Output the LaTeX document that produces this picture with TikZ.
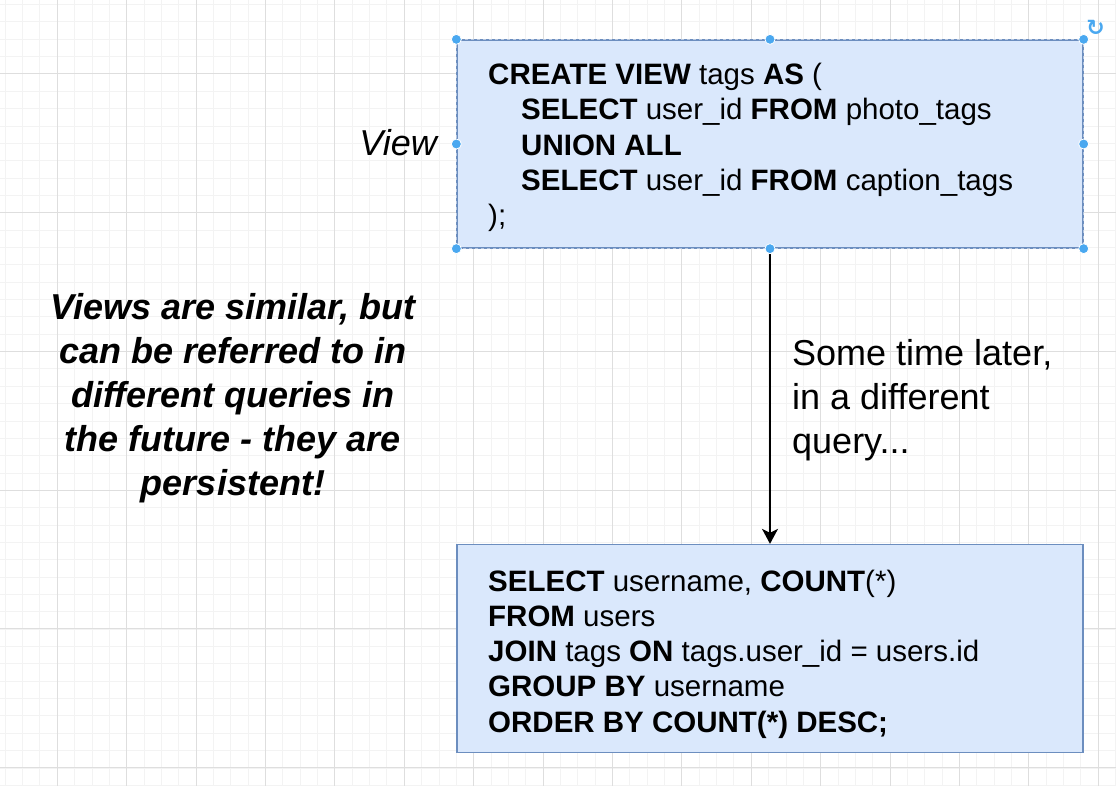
\documentclass[tikz,border=0pt]{standalone}
\usepackage{fontspec}
\setmainfont{Liberation Sans}
\newfontfamily\symfont{DejaVu Sans}
\usetikzlibrary{arrows.meta}
\definecolor{boxfill}{HTML}{DAE8FC}
\definecolor{boxline}{HTML}{6C8EBF}
\definecolor{handle}{HTML}{4AA8F0}
\definecolor{gridminor}{HTML}{F3F3F3}
\definecolor{gridmajor}{HTML}{DEDEDE}
\begin{document}
\begin{tikzpicture}[x=1pt,y=-1pt,
  sqlbox/.style={draw=boxline, fill=boxfill, line width=1.3pt, minimum width=626pt, minimum height=208pt, inner sep=0pt, anchor=center},
  sqltext/.style={font=\fontsize{29.5}{35.2}\selectfont, align=left, anchor=west, inner sep=0pt},
  bigtext/.style={font=\fontsize{36}{44}\selectfont, inner sep=0pt},
  handledot/.style={circle, fill=handle, draw=white, line width=0.8pt, minimum size=10pt, inner sep=0pt},
  flowarrow/.style={draw=black, line width=1.6pt, -{Stealth[length=15pt,width=16pt,inset=4pt]}}]
\useasboundingbox (0,0) rectangle (1116,786);
\fill[white] (0,0) rectangle (1116,786);
% grid
\foreach \k in {0,...,64} {
  \draw[gridminor, line width=1pt] ({5.25+17.35*\k},0) -- ({5.25+17.35*\k},786);
}
\foreach \k in {0,...,45} {
  \draw[gridminor, line width=1pt] (0,{4.6+17.35*\k}) -- (1116,{4.6+17.35*\k});
}
\foreach \k in {0,...,15} {
  \draw[gridmajor, line width=1pt] ({57.3+69.4*\k},0) -- ({57.3+69.4*\k},786);
}
\foreach \k in {0,...,5} {
  \draw[gridmajor, line width=1pt] (0,{74+138.7*\k}) -- (1116,{74+138.7*\k});
}
% boxes
\node[sqlbox] (view) at (770,144) {};
\node[sqlbox] (query) at (770,648.5) {};
\draw[white, line width=0.8pt, dash pattern=on 3pt off 3pt, opacity=0.5] (view.north west) rectangle (view.south east);
\node[sqltext] (viewtext) at (488,147.5) {\textbf{CREATE VIEW} tags \textbf{AS} (\\
\hspace*{33pt}\textbf{SELECT} user\_id \textbf{FROM} photo\_tags\\
\hspace*{33pt}\textbf{UNION ALL}\\
\hspace*{33pt}\textbf{SELECT} user\_id \textbf{FROM} caption\_tags\\
);};
\node[sqltext] (querytext) at (488,654) {\textbf{SELECT} username, \textbf{COUNT}(*)\\
\textbf{FROM} users\\
\textbf{JOIN} tags \textbf{ON} tags.user\_id = users.id\\
\textbf{GROUP BY} username\\
\textbf{ORDER BY COUNT(*) DESC;}};
% labels
\node[bigtext, anchor=base east, font=\fontsize{36}{44}\selectfont\itshape] (viewlabel) at (437,155.5) {View};
\node[bigtext, anchor=base, align=center, font=\fontsize{36}{43.8}\selectfont\bfseries\itshape] (note) at (233,495) {Views are similar, but\\can be referred to in\\different queries in\\the future - they are\\persistent!};
% connector
\draw[flowarrow] (view.south) -- (query.north);
\node[bigtext, anchor=base west, align=left] (later) at (792,453) {Some time later,\\in a different\\query...};
% selection handles
\foreach \a in {north west,north,north east,west,east,south west,south,south east} {
  \node[handledot] at (view.\a) {};
}
\node[text=handle, font=\symfont\bfseries\fontsize{22}{22}\selectfont, inner sep=0pt] (rotate) at (1095.5,28) {↻};
\end{tikzpicture}
\end{document}
